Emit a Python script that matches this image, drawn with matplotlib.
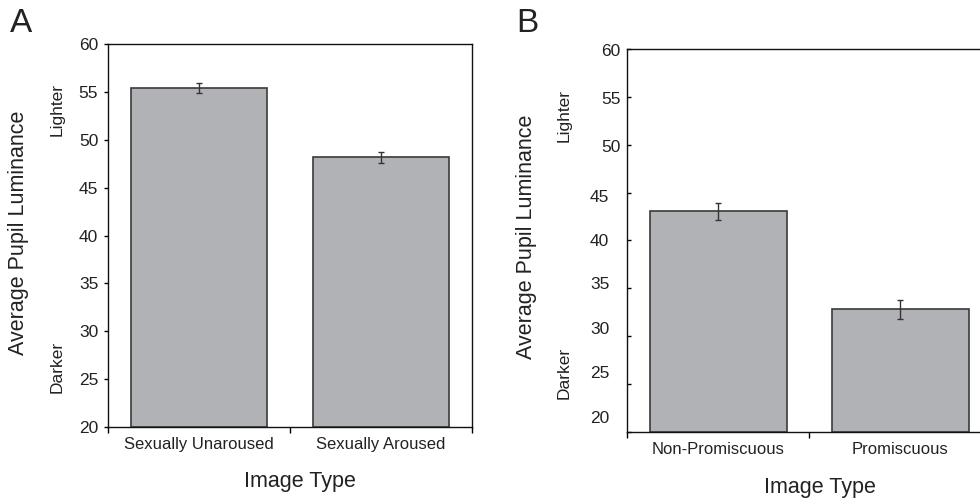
import numpy as np
import matplotlib
matplotlib.use("Agg")
import matplotlib.pyplot as plt
from matplotlib.transforms import ScaledTranslation

plt.rcParams["font.family"] = ["Liberation Sans", "DejaVu Sans"]

# panel A data
cats_a = ["Sexually Unaroused", "Sexually Aroused"]
vals_a = [55.4, 48.15]
errs_a = [0.5, 0.55]

# panel B data
cats_b = ["Non-Promiscuous", "Promiscuous"]
vals_b = [43.05, 32.8]
errs_b = [0.9, 0.95]

yticks = [20, 25, 30, 35, 40, 45, 50, 55, 60]

BAR_COLOR = "#b1b2b6"
EDGE = "#3a3a3a"
TXT = "#222222"

fig = plt.figure(figsize=(9.8, 4.99), dpi=100)
ax_a = fig.add_axes([0.1102, 0.1443, 0.3714, 0.7675])
ax_b = fig.add_axes([0.6401, 0.1343, 0.3714, 0.7675])


def draw_panel(ax, cats, vals, errs):
    x = np.arange(len(cats))
    ax.bar(x, np.array(vals) - 20, bottom=20, width=0.75, color=BAR_COLOR,
           edgecolor=EDGE, linewidth=1.2, zorder=2)
    ax.errorbar(x, vals, yerr=errs, fmt="none", ecolor="#333333",
                elinewidth=1.0, capsize=2.5, capthick=1.0, zorder=3)
    ax.set_xlim(-0.5, len(cats) - 0.5)
    ax.set_ylim(20, 60)
    ax.set_yticks(yticks)
    ax.set_xticks(x)
    ax.set_xticklabels(cats, fontsize=12, color=TXT)
    # boundary ticks between categories
    ax.set_xticks(np.arange(len(cats) + 1) - 0.5, minor=True)
    ax.tick_params(axis="x", which="major", length=0, pad=7)
    ax.tick_params(axis="x", which="minor", length=4, width=1, direction="out")
    for sp in ax.spines.values():
        sp.set_linewidth(1.0)
        sp.set_color("#111111")


draw_panel(ax_a, cats_a, vals_a, errs_a)
draw_panel(ax_b, cats_b, vals_b, errs_b)

ax_a.tick_params(axis="y", direction="out", length=3, width=1, pad=4,
                 labelsize=12.5, labelcolor=TXT)
ax_b.tick_params(axis="y", direction="in", length=3, width=1, pad=5,
                 labelsize=12.5, labelcolor=TXT)

# panel B tick labels sit a bit off their ticks in the original (px: dx, dy)
b_label_shift = {60: (0, -1), 55: (0, -1), 50: (0, -1), 45: (-11, -3),
                 40: (-11, 0), 35: (-11, 5), 30: (-11, 8), 25: (-11, 12),
                 20: (-11, 15)}
for tick_val, lab in zip(yticks, ax_b.get_yticklabels()):
    dx, dy = b_label_shift[tick_val]
    lab.set_transform(lab.get_transform() +
                      ScaledTranslation(dx / 100, dy / 100, fig.dpi_scale_trans))

# axis titles and side notes
fig.text(19 / 980, 1 - 233 / 499, "Average Pupil Luminance", rotation=90,
         fontsize=15.5, color=TXT, ha="center", va="center")
fig.text(57 / 980, 1 - 110 / 499, "Lighter", rotation=90, fontsize=12.5,
         color=TXT, ha="center", va="center")
fig.text(57 / 980, 1 - 367 / 499, "Darker", rotation=90, fontsize=12.5,
         color=TXT, ha="center", va="center")
fig.text(300 / 980, 1 - 482 / 499, "Image Type", fontsize=15.5, color=TXT,
         ha="center", va="center")

fig.text(526 / 980, 1 - 237 / 499, "Average Pupil Luminance", rotation=90,
         fontsize=15.5, color=TXT, ha="center", va="center")
fig.text(564 / 980, 1 - 116 / 499, "Lighter", rotation=90, fontsize=12.5,
         color=TXT, ha="center", va="center")
fig.text(564 / 980, 1 - 373 / 499, "Darker", rotation=90, fontsize=12.5,
         color=TXT, ha="center", va="center")
fig.text(820 / 980, 1 - 487 / 499, "Image Type", fontsize=15.5, color=TXT,
         ha="center", va="center")

# panel letters
fig.text(21 / 980, 1 - 24 / 499, "A", fontsize=24, color=TXT,
         ha="center", va="center")
fig.text(527 / 980, 1 - 23 / 499, "B", fontsize=24, color=TXT,
         ha="center", va="center")

fig.savefig("out.png", dpi=100)
